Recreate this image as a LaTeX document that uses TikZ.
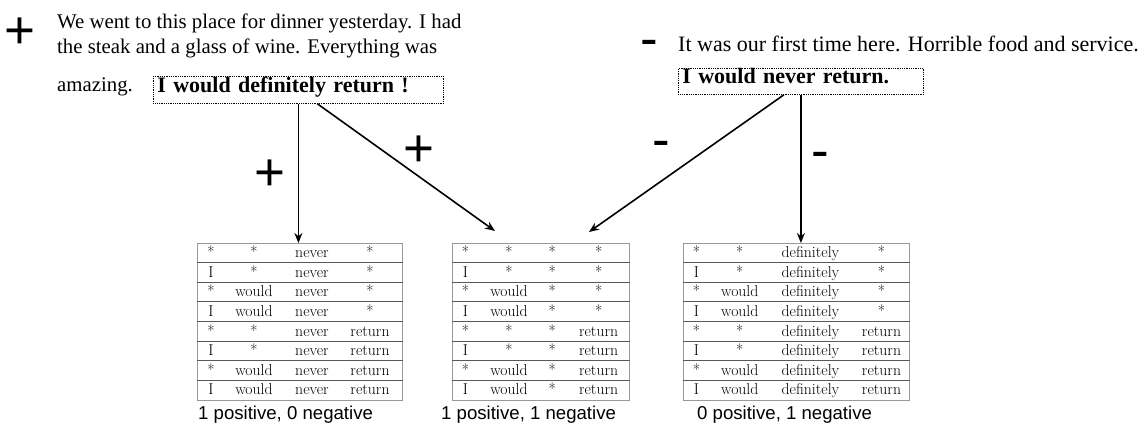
\documentclass[tikz,border=0pt]{standalone}
\usepackage{fontspec}
\newfontfamily\tnr{Liberation Serif}
\newfontfamily\hel{Liberation Sans}
\usetikzlibrary{arrows.meta,calc}
\tikzset{
  sign/.style={font=\hel\fontsize{53}{53}\selectfont, inner sep=0pt, anchor=base},
  para/.style={font=\tnr\fontsize{20.8}{25}\selectfont, inner sep=0pt, anchor=base west},
  parab/.style={font=\tnr\fontsize{22}{26}\selectfont, inner sep=0pt, anchor=base west},
  sentbox/.style={draw, densely dotted, line width=0.8pt, font=\tnr\bfseries\fontsize{22}{26}\selectfont, inner xsep=4pt, inner ysep=0pt, align=left, anchor=north west},
  arr/.style={line width=1.6pt, -{Stealth[length=10pt,width=8pt]}},
  tbl/.style={draw=black!40, line width=0.9pt, minimum height=157pt, inner sep=0pt, anchor=north west},
  rowline/.style={draw=black!65, line width=0.9pt},
  cell/.style={font=\fontsize{15.7}{19}\selectfont, inner sep=0pt, anchor=base},
  captext/.style={font=\hel\fontsize{18.6}{22}\selectfont, inner sep=0pt, anchor=base west},
}
\newcommand\sentitable[8]{%
  \node[tbl, minimum width=#3pt] (#1) at (#2,243) {};
  \foreach \k in {1,...,7}
    \draw[rowline] ($(#1.north west)+(0,\k*19.6)$) -- ($(#1.north east)+(0,\k*19.6)$);
  \foreach \r in {0,...,7} {
    \pgfmathsetmacro\yy{243+\r*19.6+14.6}
    \pgfmathtruncatemacro\hh{floor(\r/2)}
    \node[cell] (#1-\r-1) at (#5,\yy) {\ifodd\r I\else *\fi};
    \node[cell] (#1-\r-2) at (#6,\yy) {\ifodd\hh would\else *\fi};
    \node[cell] (#1-\r-3) at (#7,\yy) {#4};
    \node[cell] (#1-\r-4) at (#8,\yy) {\ifnum\r>3 return\else *\fi};
  }
}
\begin{document}
\begin{tikzpicture}[x=1pt,y=-1pt]
\useasboundingbox (0,0) rectangle (1146,423);
% left review
\node[sign] (plusA) at (20,48.6) {+};
\node[para] (l1) at (57,28) {We went to this place for dinner yesterday. I had};
\node[para] (l2) at (57,53) {the steak and a glass of wine. Everything was};
\node[para] (l3) at (57,91) {amazing.};
\node[sentbox, text width=282pt, text depth=11pt, text height=16pt] (box1) at (153,76) {I would definitely return !};
% right review
\node[sign] (minusA) at (649,56) {-};
\node[parab] (r1) at (678,51.5) {It was our first time here. Horrible food and service.};
\node[sentbox, text width=237pt, text depth=11pt, text height=15pt] (box2) at (678,68) {I would never return.};
% tables
\sentitable{t1}{197}{205}{never}{211}{254}{312}{370}
\sentitable{t2}{452}{177}{*}{465.4}{508.9}{552.3}{598.6}
\sentitable{t3}{683}{226}{definitely}{696.4}{739.8}{810.5}{881.5}
\node[captext] (c1) at (198,419) {1 positive, 0 negative};
\node[captext] (c2) at (441,419) {1 positive, 1 negative};
\node[captext] (c3) at (697,419) {0 positive, 1 negative};
% arrows
\draw[arr] (box1.south) -- (box1.south |- t1.north);
\draw[arr] ($(box1.south)+(19,0)$) -- ($(t2.north)+(-46,-12)$);
\draw[arr] ($(box2.south)+(-17,0)$) -- ($(t2.north)+(48,-11)$);
\draw[arr] (box2.south) -- (box2.south |- t3.north);
% arrow labels
\node[sign] (p1) at (270,190.6) {+};
\node[sign] (p2) at (419,166.6) {+};
\node[sign] (m1) at (661,157) {-};
\node[sign] (m2) at (820,168) {-};
\end{tikzpicture}
\end{document}
